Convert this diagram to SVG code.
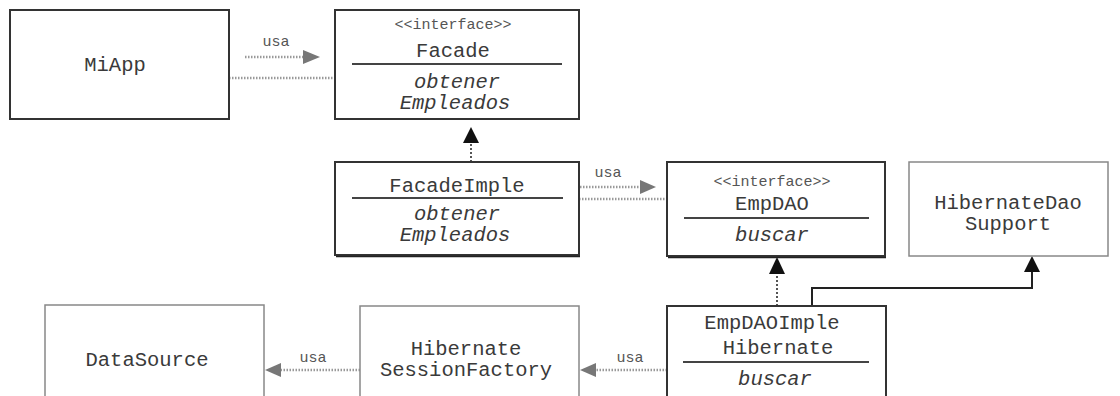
<svg xmlns="http://www.w3.org/2000/svg" width="1120" height="396" viewBox="0 0 1120 396">
<defs>
<style>
.box{fill:#fff;stroke:#333;stroke-width:2}
.lbox{fill:#fff;stroke:#888;stroke-width:1.5}
.sep{stroke:#444;stroke-width:1.8}
.t{font-family:"Liberation Mono","Courier New",monospace;font-size:20.5px;fill:#3a3a3a;text-anchor:middle}
.i{font-style:italic}
.s{font-family:"Liberation Mono","Courier New",monospace;font-size:15px;fill:#555;text-anchor:middle}
.dot{stroke:#999;stroke-width:2.5;stroke-dasharray:1.5 1.5;fill:none}
.dotk{stroke:#555;stroke-width:2;stroke-dasharray:2 2;fill:none}
.solid{stroke:#222;stroke-width:2;fill:none}
.gh{fill:#777}
.bh{fill:#111}
</style>
</defs>
<rect width="1120" height="396" fill="#fff"/>
<g id="connectors">
<!-- MiApp -> Facade -->
<line class="dot" x1="229" y1="78" x2="335" y2="78"/>
<line class="dot" x1="245" y1="57" x2="304" y2="57"/>
<polygon class="gh" points="320,57 303,50 303,64"/>
<text class="s" x="276" y="46">usa</text>
<!-- FacadeImple -> Facade -->
<line class="dotk" x1="471" y1="162" x2="471" y2="142"/>
<polygon class="bh" points="471,127 463,143 479,143"/>
<!-- FacadeImple -> EmpDAO -->
<line class="dot" x1="579" y1="199" x2="667" y2="199"/>
<line class="dot" x1="580" y1="187" x2="641" y2="187"/>
<polygon class="gh" points="656,187 640,180 640,194"/>
<text class="s" x="608" y="177">usa</text>
<!-- EmpDAOImple -> EmpDAO -->
<line class="dotk" x1="777" y1="306" x2="777" y2="273"/>
<polygon class="bh" points="777,257 769,274 785,274"/>
<!-- EmpDAOImple -> HibernateDaoSupport -->
<polyline class="solid" points="812,306 812,288 1032,288 1032,270"/>
<polygon class="bh" points="1032,256 1024,272 1040,272"/>
<!-- EmpDAOImple -> HSF -->
<line class="dot" x1="667" y1="370" x2="594" y2="370"/>
<polygon class="gh" points="580,370 596,363 596,377"/>
<text class="s" x="630" y="362">usa</text>
<!-- HSF -> DataSource -->
<line class="dot" x1="360" y1="370" x2="279" y2="370"/>
<polygon class="gh" points="265,370 281,363 281,377"/>
<text class="s" x="313" y="362">usa</text>
</g>
<g id="MiApp">
<rect class="box" x="10" y="10" width="219" height="109"/>
<text class="t" x="115" y="71">MiApp</text>
</g>
<g id="Facade">
<rect class="box" x="335" y="10" width="244" height="109"/>
<text class="s" x="453" y="29">&lt;&lt;interface&gt;&gt;</text>
<text class="t" x="453" y="57">Facade</text>
<line class="sep" x1="352" y1="64" x2="562" y2="64"/>
<text class="t i" x="457" y="88">obtener</text>
<text class="t i" x="455" y="109">Empleados</text>
</g>
<g id="FacadeImple">
<rect class="box" x="335" y="162" width="244" height="93"/>
<line stroke="#222" stroke-width="1.5" x1="336" y1="256.5" x2="580" y2="256.5"/>
<text class="t" x="457" y="192">FacadeImple</text>
<line class="sep" x1="352" y1="198" x2="563" y2="198"/>
<text class="t i" x="457" y="220">obtener</text>
<text class="t i" x="455" y="241">Empleados</text>
</g>
<g id="EmpDAO">
<rect class="box" x="667" y="162" width="218" height="94"/>
<line stroke="#222" stroke-width="1.5" x1="668" y1="257.5" x2="886" y2="257.5"/>
<text class="s" x="772" y="186">&lt;&lt;interface&gt;&gt;</text>
<text class="t" x="772" y="210">EmpDAO</text>
<line class="sep" x1="684" y1="218" x2="869" y2="218"/>
<text class="t i" x="772" y="241">buscar</text>
</g>
<g id="HibernateDaoSupport">
<rect class="lbox" x="909" y="162" width="199" height="94"/>
<text class="t" x="1008" y="209">HibernateDao</text>
<text class="t" x="1008" y="230">Support</text>
</g>
<g id="EmpDAOImpleHibernate">
<rect class="box" x="667" y="306" width="219" height="100"/>
<text class="t" x="772" y="329">EmpDAOImple</text>
<text class="t" x="778" y="354">Hibernate</text>
<line class="sep" x1="683" y1="362" x2="869" y2="362"/>
<text class="t i" x="775" y="385">buscar</text>
</g>
<g id="HibernateSessionFactory">
<rect class="lbox" x="360" y="306" width="219" height="100"/>
<text class="t" x="466" y="355">Hibernate</text>
<text class="t" x="466" y="376">SessionFactory</text>
</g>
<g id="DataSource">
<rect class="lbox" x="45" y="305" width="219" height="100"/>
<text class="t" x="147" y="366">DataSource</text>
</g>
</svg>
